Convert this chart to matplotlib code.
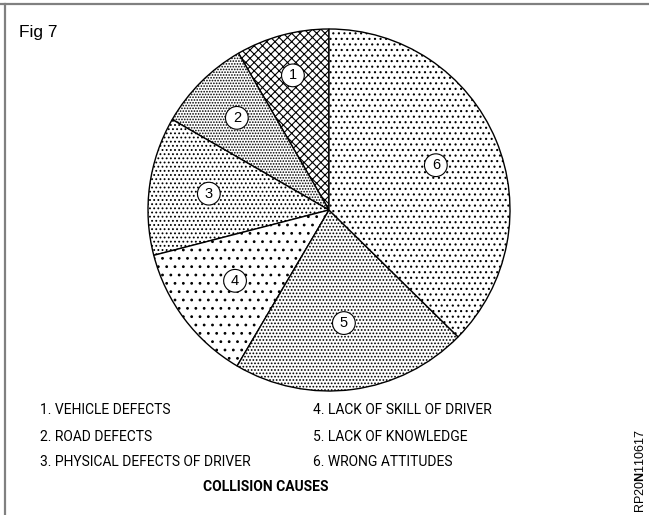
import matplotlib
matplotlib.use('Agg')
import matplotlib.pyplot as plt
import numpy as np

plt.rcParams['font.family'] = 'Liberation Sans'
plt.rcParams['mathtext.fontset'] = 'custom'
plt.rcParams['mathtext.rm'] = 'Liberation Sans'
plt.rcParams['mathtext.bf'] = 'Liberation Sans:bold'
plt.rcParams['hatch.linewidth'] = 0.8

# share of each cause, in degrees of the circle
numbers = ['1', '2', '3', '4', '5', '6']
shares = [30, 30, 44.5, 45, 76, 134.5]
causes = ['1. VEHICLE DEFECTS',
          '2. ROAD DEFECTS',
          '3. PHYSICAL DEFECTS OF DRIVER',
          '4. LACK OF SKILL OF DRIVER',
          '5. LACK OF KNOWLEDGE',
          '6. WRONG ATTITUDES']

hatches = ['xxxx', '......', '....', '..', '.....', '...']
label_r = [0.77, 0.72, 0.67, 0.65, 0.63, 0.64]

fig = plt.figure(figsize=(6.49, 5.15), dpi=100)

# frame: top and left rule only
fig.add_artist(plt.Line2D([0, 1], [1 - 4 / 515, 1 - 4 / 515], color='#808080', lw=1.6))
fig.add_artist(plt.Line2D([5 / 649, 5 / 649], [0, 1 - 4 / 515], color='#808080', lw=1.6))

cx, cy, r = 329, 210, 181
half = 186
ax = fig.add_axes([(cx - half) / 649, 1 - (cy + half) / 515, 2 * half / 649, 2 * half / 515])
wedges, _ = ax.pie(shares, startangle=90, counterclock=True, radius=1,
                   colors=['white'] * 6,
                   wedgeprops=dict(edgecolor='black', linewidth=1.0))
for w, h in zip(wedges, hatches):
    w.set_hatch(h)

for w, num, lr in zip(wedges, numbers, label_r):
    mid = np.deg2rad((w.theta1 + w.theta2) / 2)
    ax.text(lr * np.cos(mid), lr * np.sin(mid), num, ha='center', va='center',
            fontsize=10.5, bbox=dict(boxstyle='circle,pad=0.3', fc='white',
                                     ec='black', lw=0.8))

lim = half / r
ax.set_xlim(-lim, lim)
ax.set_ylim(-lim, lim)
ax.set_aspect('equal')
ax.axis('off')

fig.text(19 / 649, 1 - 32 / 515, 'Fig 7', fontsize=12.5, va='center', ha='left')

rows_y = [410, 437, 462]
for i, txt in enumerate(causes):
    x = 40 if i < 3 else 313
    y = rows_y[i % 3]
    fig.text(x / 649, 1 - y / 515, txt, fontsize=10, family='Roboto',
             va='center', ha='left')

fig.text(266 / 649, 1 - 487 / 515, 'COLLISION CAUSES', fontsize=10, family='Roboto',
         fontweight='bold', va='center', ha='center')

fig.text(641 / 649, 1 - 513 / 515, r'RP20$\mathbf{N}$110617', fontsize=9,
         rotation=90, va='bottom', ha='center')

fig.savefig('out.png', dpi=100)
